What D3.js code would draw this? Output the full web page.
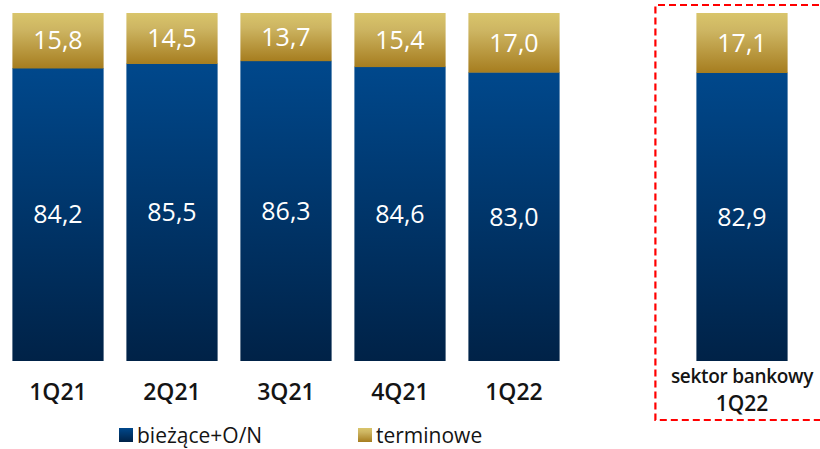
<!DOCTYPE html>
<html>
<head>
<meta charset="utf-8">
<script src="https://cdn.jsdelivr.net/npm/d3@7"></script>
<style>
  html, body { margin: 0; padding: 0; background: #fff; }
  svg { display: block; font-family: "Open Sans", "DejaVu Sans", sans-serif; }
</style>
</head>
<body>
<svg id="chart" width="820" height="449"></svg>
<script>
// ---- data ----
const categories = ["1Q21", "2Q21", "3Q21", "4Q21", "1Q22", "", "sektor bankowy|1Q22"];
const biezace = [84.2, 85.5, 86.3, 84.6, 83.0, null, 82.9];
const terminowe = [15.8, 14.5, 13.7, 15.4, 17.0, null, 17.1];
const seriesNames = ["bieżące+O/N", "terminowe"];

const fmt = v => v.toFixed(1).replace(".", ",");

const svg = d3.select("#chart");
const defs = svg.append("defs");

const gGold = defs.append("linearGradient").attr("id", "gold").attr("x1", 0).attr("y1", 0).attr("x2", 0).attr("y2", 1);
gGold.append("stop").attr("offset", "0%").attr("stop-color", "#d9c56b");
gGold.append("stop").attr("offset", "30%").attr("stop-color", "#cdb562");
gGold.append("stop").attr("offset", "100%").attr("stop-color", "#a67d1f");

const gBlue = defs.append("linearGradient").attr("id", "blue").attr("x1", 0).attr("y1", 0).attr("x2", 0).attr("y2", 1);
gBlue.append("stop").attr("offset", "0%").attr("stop-color", "#00488c");
gBlue.append("stop").attr("offset", "100%").attr("stop-color", "#002247");

const x = d3.scaleBand().domain(d3.range(categories.length)).range([1, 799]).paddingInner(0.2).paddingOuter(0.1);
const y = d3.scaleLinear().domain([0, 100]).range([361, 13]);

const data = categories.map((c, i) => ({ i, c, b: biezace[i], t: terminowe[i] })).filter(d => d.b != null);

const bars = svg.append("g");
bars.selectAll("rect.b").data(data).join("rect").attr("class", "b")
  .attr("x", d => x(d.i)).attr("width", x.bandwidth())
  .attr("y", d => y(d.b)).attr("height", d => y(0) - y(d.b))
  .attr("fill", "url(#blue)");
bars.selectAll("rect.t").data(data).join("rect").attr("class", "t")
  .attr("x", d => x(d.i)).attr("width", x.bandwidth())
  .attr("y", d => y(d.b + d.t)).attr("height", d => y(d.b) - y(d.b + d.t) + 0.5)
  .attr("fill", "url(#gold)");

// value labels
const lab = svg.append("g").attr("fill", "#fff").attr("font-size", 25).attr("text-anchor", "middle");
lab.selectAll("text.b").data(data).join("text").attr("class", "b")
  .attr("x", d => x(d.i) + x.bandwidth() / 2)
  .attr("y", d => (y(0) + y(d.b)) / 2).attr("dy", "0.36em").text(d => fmt(d.b));
lab.selectAll("text.t").data(data).join("text").attr("class", "t")
  .attr("x", d => x(d.i) + x.bandwidth() / 2)
  .attr("y", d => (y(d.b) + y(d.b + d.t)) / 2).attr("dy", "0.36em").text(d => fmt(d.t));

// category labels
const cat = svg.append("g").attr("fill", "#141414").attr("text-anchor", "middle");
data.forEach(d => {
  const parts = d.c.split("|");
  const cx = x(d.i) + x.bandwidth() / 2;
  if (parts.length === 1) {
    cat.append("text").attr("x", cx).attr("y", 400).attr("font-size", 23).attr("font-weight", 600).text(parts[0]);
  } else {
    cat.append("text").attr("x", cx).attr("y", 383).attr("font-size", 19).attr("font-weight", 600).attr("letter-spacing", -0.3).text(parts[0]);
    cat.append("text").attr("x", cx).attr("y", 411).attr("font-size", 21).attr("font-weight", 600).text(parts[1]);
  }
});

// dashed highlight box (right edge off-canvas)
const bx0 = x(6) - 41, bx1 = 830, by0 = 5, by1 = 420;
svg.append("path")
  .attr("d", `M${bx1},${by0} H${bx0} V${by1} H${bx1}`)
  .attr("fill", "none").attr("stroke", "#ff0000").attr("stroke-width", 2.2)
  .attr("stroke-dasharray", "7,4");

// legend
const legend = svg.append("g");
const legItems = [{ name: seriesNames[0], fill: "url(#blue)", x: 119 }, { name: seriesNames[1], fill: "url(#gold)", x: 358 }];
legItems.forEach(l => {
  legend.append("rect").attr("x", l.x).attr("y", 428).attr("width", 14).attr("height", 14).attr("fill", l.fill);
  legend.append("text").attr("x", l.x + 18).attr("y", 443).attr("font-size", 21).attr("fill", "#141414").text(l.name);
});
</script>
</body>
</html>
